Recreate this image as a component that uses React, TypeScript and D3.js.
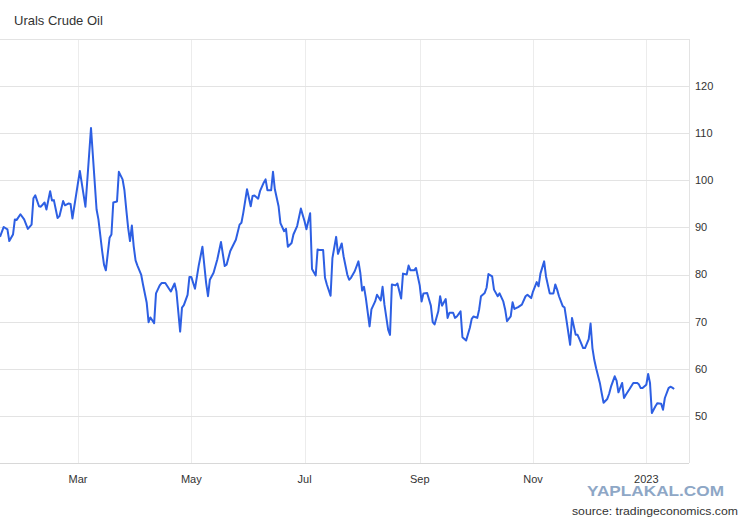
import React, { useEffect, useRef } from "react";
import * as d3 from "d3";

const title = "Urals Crude Oil";
const sourceLabel = "source: tradingeconomics.com";
const watermark = "YAPLAKAL.COM";

const dates = [
  "2022-01-18", "2022-01-20", "2022-01-22", "2022-01-23", "2022-01-25", "2022-01-26", "2022-01-27", "2022-01-29", "2022-01-31",
  "2022-02-02", "2022-02-04", "2022-02-05", "2022-02-06", "2022-02-08", "2022-02-09", "2022-02-11", "2022-02-12", "2022-02-14",
  "2022-02-15", "2022-02-16", "2022-02-18", "2022-02-19", "2022-02-21", "2022-02-22", "2022-02-24", "2022-02-25", "2022-02-26",
  "2022-03-02", "2022-03-05", "2022-03-08", "2022-03-11", "2022-03-12", "2022-03-14", "2022-03-15", "2022-03-16", "2022-03-18",
  "2022-03-19", "2022-03-20", "2022-03-22", "2022-03-23", "2022-03-25", "2022-03-26", "2022-03-27", "2022-03-28", "2022-03-29",
  "2022-03-30", "2022-03-31",
  "2022-04-01", "2022-04-02", "2022-04-04", "2022-04-05", "2022-04-07", "2022-04-08", "2022-04-09", "2022-04-11", "2022-04-12",
  "2022-04-14", "2022-04-15", "2022-04-17", "2022-04-19", "2022-04-20", "2022-04-22", "2022-04-23", "2022-04-25", "2022-04-26",
  "2022-04-27", "2022-04-29", "2022-04-30",
  "2022-05-01", "2022-05-03", "2022-05-05", "2022-05-07", "2022-05-09", "2022-05-10", "2022-05-11", "2022-05-13", "2022-05-15",
  "2022-05-17", "2022-05-19", "2022-05-20", "2022-05-22", "2022-05-24", "2022-05-25", "2022-05-27", "2022-05-28", "2022-05-29",
  "2022-05-31",
  "2022-06-02", "2022-06-03", "2022-06-04", "2022-06-06", "2022-06-07", "2022-06-09", "2022-06-10", "2022-06-11", "2022-06-13",
  "2022-06-14", "2022-06-15", "2022-06-17", "2022-06-18", "2022-06-20", "2022-06-21", "2022-06-22", "2022-06-24", "2022-06-25",
  "2022-06-27", "2022-06-29",
  "2022-07-01", "2022-07-02", "2022-07-04", "2022-07-05", "2022-07-07", "2022-07-08", "2022-07-09", "2022-07-11", "2022-07-12",
  "2022-07-13", "2022-07-15", "2022-07-16", "2022-07-18", "2022-07-19", "2022-07-21", "2022-07-22", "2022-07-24", "2022-07-25",
  "2022-07-26", "2022-07-28", "2022-07-30", "2022-07-31",
  "2022-08-01", "2022-08-02", "2022-08-03", "2022-08-05", "2022-08-06", "2022-08-08", "2022-08-09", "2022-08-11", "2022-08-12",
  "2022-08-13", "2022-08-15", "2022-08-16", "2022-08-17", "2022-08-19", "2022-08-20", "2022-08-22", "2022-08-23", "2022-08-25",
  "2022-08-26", "2022-08-27", "2022-08-29", "2022-08-30",
  "2022-09-01", "2022-09-02", "2022-09-03", "2022-09-05", "2022-09-07", "2022-09-08", "2022-09-09", "2022-09-11", "2022-09-12",
  "2022-09-13", "2022-09-15", "2022-09-16", "2022-09-17", "2022-09-19", "2022-09-20", "2022-09-21", "2022-09-23", "2022-09-24",
  "2022-09-26", "2022-09-28", "2022-09-29", "2022-09-30",
  "2022-10-02", "2022-10-03", "2022-10-04", "2022-10-06", "2022-10-07", "2022-10-08", "2022-10-10", "2022-10-11", "2022-10-13",
  "2022-10-14", "2022-10-16", "2022-10-17", "2022-10-18", "2022-10-20", "2022-10-21", "2022-10-22", "2022-10-24", "2022-10-26",
  "2022-10-28", "2022-10-29", "2022-10-31",
  "2022-11-01", "2022-11-03", "2022-11-04", "2022-11-05", "2022-11-07", "2022-11-08", "2022-11-10", "2022-11-12", "2022-11-13",
  "2022-11-14", "2022-11-15", "2022-11-17", "2022-11-18", "2022-11-19", "2022-11-21", "2022-11-22", "2022-11-24", "2022-11-25",
  "2022-11-26", "2022-11-28", "2022-11-29",
  "2022-12-01", "2022-12-02", "2022-12-03", "2022-12-04", "2022-12-05", "2022-12-07", "2022-12-08", "2022-12-09", "2022-12-11",
  "2022-12-12", "2022-12-13", "2022-12-15", "2022-12-16", "2022-12-17", "2022-12-19", "2022-12-20", "2022-12-21", "2022-12-23",
  "2022-12-25", "2022-12-27", "2022-12-28", "2022-12-29", "2022-12-30",
  "2023-01-01", "2023-01-02", "2023-01-03", "2023-01-04", "2023-01-06", "2023-01-07", "2023-01-09", "2023-01-10", "2023-01-11",
  "2023-01-13", "2023-01-14", "2023-01-15", "2023-01-16",
];

const prices = [
  88.0, 90.1, 89.6, 87.1, 88.5, 91.7, 91.6, 92.8, 91.7,
  89.7, 90.6, 96.2, 96.8, 94.5, 94.4, 95.3, 93.8, 97.7,
  95.7, 95.8, 92.0, 92.4, 95.6, 94.7, 95.1, 95.0, 91.9,
  102.0, 94.4, 111.1, 93.8, 91.7, 85.0, 82.1, 80.9, 87.8,
  88.5, 95.3, 95.5, 101.8, 100.2, 97.9, 93.8, 89.9, 87.1,
  90.4, 86.0,
  83.0, 81.9, 80.0, 77.9, 74.0, 69.9, 70.9, 69.7, 76.0,
  77.7, 78.2, 78.2, 77.0, 76.4, 78.1, 76.4, 67.9, 73.0,
  73.5, 75.7, 79.5,
  79.5, 77.0, 81.9, 85.9, 78.2, 75.4, 78.9, 80.4, 83.2,
  86.9, 81.8, 82.1, 85.0, 86.6, 87.4, 90.6, 91.0, 93.1,
  98.1,
  94.5, 96.7, 96.8, 96.1, 97.7, 99.5, 100.2, 97.9, 97.9,
  101.8, 98.1, 94.5, 90.9, 89.2, 89.7, 85.9, 86.7, 88.5,
  90.3, 94.0,
  91.3, 89.6, 93.0, 81.2, 79.8, 85.3, 85.2, 85.2, 79.3,
  77.9, 75.5, 83.5, 88.0, 84.4, 86.6, 83.9, 80.0, 78.9,
  79.3, 80.7, 82.8, 80.4,
  76.6, 77.4, 75.0, 69.0, 72.6, 74.3, 75.7, 74.5, 77.4,
  73.6, 68.3, 67.2, 77.9, 77.7, 78.1, 74.9, 80.2, 80.0,
  81.9, 80.9, 80.9, 81.4,
  77.7, 74.3, 76.0, 76.1, 73.4, 69.9, 69.4, 72.2, 75.4,
  73.4, 74.8, 70.8, 71.9, 71.9, 70.8, 71.1, 72.2, 66.7,
  66.0, 68.7, 70.6, 71.1,
  70.8, 72.6, 75.4, 76.1, 77.2, 80.1, 79.6, 76.8, 75.4,
  76.0, 74.3, 72.6, 70.1, 71.1, 74.1, 72.7, 73.1, 73.6,
  75.4, 75.7, 75.0,
  76.4, 78.4, 77.5, 80.2, 82.8, 79.6, 76.0, 76.0, 77.9,
  76.8, 75.4, 73.3, 73.0, 70.4, 65.1, 70.8, 67.2, 67.2,
  66.3, 64.4, 64.4,
  66.3, 69.6, 64.4, 61.9, 60.1, 57.0, 54.8, 52.8, 53.6,
  54.7, 56.2, 58.4, 57.5, 55.0, 57.0, 53.8, 54.5, 55.7,
  57.0, 57.0, 56.7, 55.9, 55.9,
  56.6, 58.9, 57.0, 50.6, 52.1, 52.7, 52.6, 51.3, 53.8,
  55.9, 56.2, 56.0, 55.7,
];

const xDomain = ["2022-01-18", "2023-01-24"];
const yDomain = [40, 130];
const yTicks = [40, 50, 60, 70, 80, 90, 100, 110, 120, 130];
const yLabels = [50, 60, 70, 80, 90, 100, 110, 120];

const FONT = "Arial, 'Liberation Sans', sans-serif";

function drawChart(element: SVGSVGElement) {
  const width = 750, height = 520;
  const plot = { left: 0, right: 689, top: 39, bottom: 463 };

  const svg = d3.select(element);
  svg.selectAll("*").remove();

  svg.append("rect")
    .attr("width", width)
    .attr("height", height)
    .attr("fill", "#ffffff");

  const parse = d3.timeParse("%Y-%m-%d");
  const data = dates.map((d, i) => ({ date: parse(d) as Date, value: prices[i] }));

  const x = d3.scaleTime()
    .domain(xDomain.map((d) => parse(d) as Date))
    .range([plot.left, plot.right]);

  const y = d3.scaleLinear()
    .domain(yDomain)
    .range([plot.bottom, plot.top]);

  // vertical grid every two months
  const xTicks = x.ticks(d3.timeMonth.every(2) as d3.TimeInterval);
  svg.append("g")
    .selectAll("line")
    .data(xTicks)
    .enter()
    .append("line")
    .attr("x1", (d) => Math.round(x(d)) + 0.5)
    .attr("x2", (d) => Math.round(x(d)) + 0.5)
    .attr("y1", plot.top)
    .attr("y2", plot.bottom)
    .attr("stroke", "#ececec")
    .attr("stroke-width", 1);

  // horizontal grid
  svg.append("g")
    .selectAll("line")
    .data(yTicks)
    .enter()
    .append("line")
    .attr("x1", plot.left)
    .attr("x2", plot.right)
    .attr("y1", (d) => Math.round(y(d)) + 0.5)
    .attr("y2", (d) => Math.round(y(d)) + 0.5)
    .attr("stroke", (d) => (d === yDomain[0] ? "#d8d8d8" : "#e3e3e3"))
    .attr("stroke-width", 1);

  // right border
  svg.append("line")
    .attr("x1", plot.right + 0.5)
    .attr("x2", plot.right + 0.5)
    .attr("y1", plot.top)
    .attr("y2", plot.bottom)
    .attr("stroke", "#e3e3e3");

  // y labels on the right
  svg.append("g")
    .selectAll("text")
    .data(yLabels)
    .enter()
    .append("text")
    .attr("x", plot.right + 6)
    .attr("y", (d) => y(d))
    .attr("dy", "0.35em")
    .attr("font-family", FONT)
    .attr("font-size", 11)
    .attr("fill", "#333333")
    .text((d) => d);

  // x labels
  const fmt = (d: Date) => (d.getMonth() === 0 ? d3.timeFormat("%Y")(d) : d3.timeFormat("%b")(d));
  svg.append("g")
    .selectAll("text")
    .data(xTicks)
    .enter()
    .append("text")
    .attr("x", (d) => x(d))
    .attr("y", 483)
    .attr("text-anchor", "middle")
    .attr("font-family", FONT)
    .attr("font-size", 11)
    .attr("fill", "#333333")
    .text(fmt);

  const line = d3.line<{ date: Date, value: number }>()
    .x((d) => x(d.date))
    .y((d) => y(d.value));

  svg.append("path")
    .datum(data)
    .attr("d", line)
    .attr("fill", "none")
    .attr("stroke", "#2d5fe3")
    .attr("stroke-width", 2)
    .attr("stroke-linejoin", "round");

  // title
  svg.append("text")
    .attr("x", 14)
    .attr("y", 25)
    .attr("font-family", FONT)
    .attr("font-size", 13)
    .attr("fill", "#333333")
    .text(title);

  // watermark
  svg.append("text")
    .attr("x", 587)
    .attr("y", 496)
    .attr("font-family", FONT)
    .attr("font-size", 14)
    .attr("font-weight", "bold")
    .attr("fill", "#8ea7c6")
    .attr("textLength", 137)
    .attr("lengthAdjust", "spacingAndGlyphs")
    .text(watermark);

  // source
  svg.append("text")
    .attr("x", 572)
    .attr("y", 515)
    .attr("font-family", FONT)
    .attr("font-size", 11)
    .attr("fill", "#333333")
    .attr("textLength", 166)
    .attr("lengthAdjust", "spacingAndGlyphs")
    .text(sourceLabel);
}

export default function App() {
  const ref = useRef<SVGSVGElement>(null);

  useEffect(() => {
    if (ref.current) drawChart(ref.current);
  }, []);

  return (
    <svg
      ref={ref}
      width={750}
      height={520}
      style={{ position: "absolute", left: 0, top: 0, display: "block" }}
    />
  );
}
